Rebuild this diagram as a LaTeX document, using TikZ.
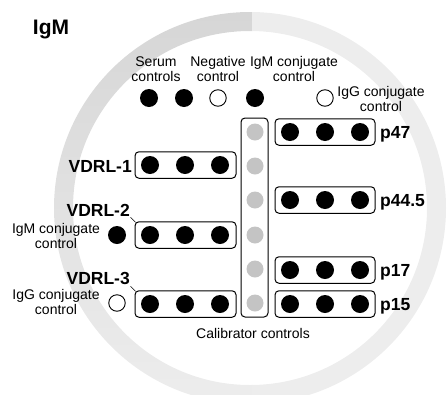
\documentclass[tikz,border=0pt]{standalone}
\usepackage{fontspec}
\setmainfont{Liberation Sans}
\usetikzlibrary{positioning}

\definecolor{ringdark}{HTML}{D6D6D6}
\definecolor{ringlight}{HTML}{EDEDED}
\definecolor{calgray}{HTML}{C4C4C4}

\tikzset{
    blackwell/.style={circle, fill=black, minimum size=18pt, inner sep=0pt},
    openwell/.style={circle, draw=black, fill=white, line width=0.9pt, minimum size=16.5pt, inner sep=0pt},
    calwell/.style={circle, fill=calgray, minimum size=17pt, inner sep=0pt},
    stripbox/.style={draw, rounded corners=4pt, line width=1pt, minimum height=26.5pt, inner sep=0pt},
    lbl/.style={font=\fontsize{14}{15}\selectfont, align=center, inner sep=0pt},
    rowlbl/.style={font=\fontsize{17.5}{20}\selectfont\bfseries, inner sep=0pt, text height=12.5pt, text depth=0pt},
}

\begin{document}
\begin{tikzpicture}[x=1pt, y=-1pt]
    \useasboundingbox (0,0) rectangle (447,394);

    % 1. Vong tron nen (nua trai dam, nua phai nhat)
    \begin{scope}
        \clip (0,0) rectangle (252,394);
        \shade[top color=ringdark, middle color=ringdark, bottom color=ringlight, even odd rule]
            (250,208) circle (196) (250,208) circle (177);
    \end{scope}
    \begin{scope}
        \clip (252,0) rectangle (447,394);
        \fill[ringlight, even odd rule] (250,208) circle (196) (250,208) circle (177);
    \end{scope}

    \node[font=\fontsize{21}{24}\selectfont\bfseries, inner sep=0pt] (title) at (51,29) {IgM};

    % 2. Hang gieng kiem chung phia tren
    \node[blackwell] (serum1) at (149,98) {};
    \node[blackwell] (serum2) at (184,98) {};
    \node[openwell] (neg) at (218,98) {};
    \node[blackwell] (igm) at (255,98) {};
    \node[openwell] (igg) at (325,98) {};

    \node[lbl] (serumlbl) at (156,69) {Serum\\controls};
    \node[lbl] (neglbl) at (218,69) {Negative\\control};
    \node[lbl] (igmlbl) at (294,69) {IgM conjugate\\control};
    \node[lbl] (igglbl) at (381,99) {IgG conjugate\\control};

    % 3. Dai chuan (calibrator)
    \node[stripbox, minimum width=27pt, minimum height=199pt] (cal) at (254.5,217.5) {};
    \foreach \i/\y in {1/132, 2/166, 3/200, 4/235, 5/269, 6/303}
        \node[calwell] (cal\i) at (255,\y) {};
    \node[lbl] (callbl) at (253,333) {Calibrator controls};

    % 4. Cac dai VDRL ben trai
    \foreach \n/\y in {1/165, 2/235, 3/304} {
        \node[stripbox, minimum width=101pt] (v\n box) at (185.5,\y) {};
        \foreach \k/\x in {1/150, 2/185, 3/220}
            \node[blackwell] (v\n well\k) at (\x,\y) {};
    }
    \node[rowlbl, anchor=east] (v1lbl) at (132,166) {VDRL-1};
    \node[rowlbl, anchor=east] (v2lbl) at (130,210) {VDRL-2};
    \node[rowlbl, anchor=east] (v3lbl) at (130,278.5) {VDRL-3};

    \coordinate (v2tag) at ([shift={(-4,-4)}]v2box.north west);
    \coordinate (v3tag) at ([shift={(-4,-4)}]v3box.north west);
    \draw[line width=0.7pt] ([shift={(1,1)}]v2box.north west) -- (v2tag);
    \draw[line width=0.7pt] ([shift={(1,1)}]v3box.north west) -- (v3tag);

    % gieng kiem chung canh VDRL-2, VDRL-3
    \node[blackwell] (igm2) at (117,235) {};
    \node[openwell] (igg2) at (117,303) {};
    \node[lbl] (igm2lbl) at (56,235.5) {IgM conjugate\\control};
    \node[lbl] (igg2lbl) at (56,302) {IgG conjugate\\control};

    % 5. Cac dai protein ben phai
    \foreach \n/\y/\t in {a/132/p47, b/200/p44.5, c/270/p17, d/304/p15} {
        \node[stripbox, minimum width=100pt] (r\n box) at (325,\y) {};
        \foreach \k/\x in {1/290, 2/325, 3/360}
            \node[blackwell] (r\n well\k) at (\x,\y) {};
        \node[rowlbl, anchor=west] (r\n lbl) at (380,\y) {\t};
    }
\end{tikzpicture}
\end{document}
